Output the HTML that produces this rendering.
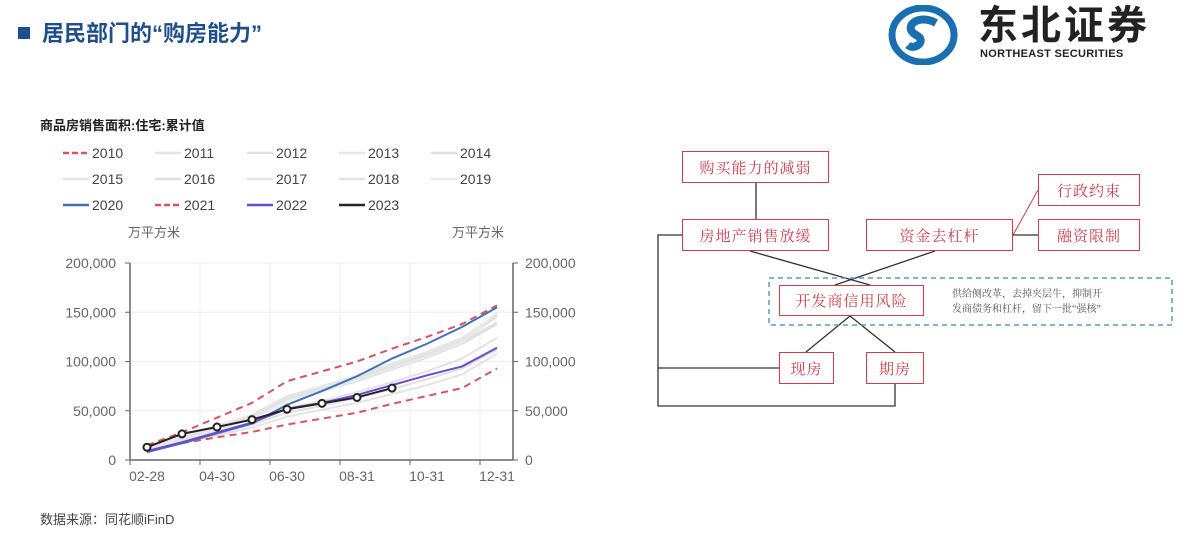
<!DOCTYPE html>
<html><head><meta charset="utf-8">
<style>
body{margin:0;width:1185px;height:551px;background:#fff;position:relative;overflow:hidden;font-family:"Liberation Sans","Noto Sans CJK SC",sans-serif;}
.abs{position:absolute;}
.box{position:absolute;border:1.5px solid #c8404e;color:#c8404e;font-family:"Liberation Serif","Noto Serif CJK SC",serif;font-size:15px;display:flex;align-items:center;justify-content:center;box-sizing:border-box;background:#fff;letter-spacing:1px;}
</style></head><body>
<div class="abs" style="left:18px;top:27px;width:12px;height:12px;background:#1f4e8c"></div>
<div class="abs" style="left:42px;top:16px;font-size:22px;font-weight:bold;color:#1f4e8c;">居民部门的“购房能力”</div>
<svg class="abs" style="left:888px;top:5px" width="70" height="60">
<ellipse cx="35" cy="30" rx="31" ry="27" fill="none" stroke="#1a6fb0" stroke-width="7"/>
<path d="M48 18 C30 8 14 22 28 30 C40 36 26 46 20 40" fill="none" stroke="#1a6fb0" stroke-width="8"/>
</svg>
<div class="abs" style="left:978px;top:4px;font-size:40px;font-weight:bold;color:#222;letter-spacing:3px;line-height:44px">东北证券</div>
<div class="abs" style="left:980px;top:48px;font-size:11px;font-weight:bold;color:#222;letter-spacing:0.3px">NORTHEAST SECURITIES</div>

<div class="abs" style="left:40px;top:115px;font-size:13px;font-weight:bold;color:#222">商品房销售面积:住宅:累计值</div>
<div class="abs" style="left:40px;top:509px;font-size:13px;color:#444">数据来源：同花顺iFinD</div>

<svg class="abs" id="chart" style="left:0;top:0" width="600" height="551"></svg>

<svg class="abs" style="left:0;top:0" width="1185" height="551">
<polyline points="756,183 756,219" fill="none" stroke="#333" stroke-width="1.3"/>
<polyline points="682,235 658,235 658,406 895,406 895,384" fill="none" stroke="#333" stroke-width="1.3"/>
<polyline points="658,368 779,368" fill="none" stroke="#333" stroke-width="1.3"/>
<line x1="750" y1="251" x2="870" y2="285" stroke="#333" stroke-width="1.3"/>
<line x1="935" y1="251" x2="835" y2="285" stroke="#333" stroke-width="1.3"/>
<line x1="850" y1="316" x2="806" y2="352" stroke="#333" stroke-width="1.3"/>
<line x1="850" y1="316" x2="895" y2="352" stroke="#333" stroke-width="1.3"/>
<line x1="1013" y1="235" x2="1038" y2="190" stroke="#c8404e" stroke-width="1"/>
<line x1="1013" y1="235" x2="1038" y2="235" stroke="#333" stroke-width="1.3"/>
<rect x="769" y="278" width="403" height="47" fill="none" stroke="#5a9bc0" stroke-width="1.5" stroke-dasharray="5,4"/>
</svg>
<div class="box" style="left:682px;top:151px;width:147px;height:32px">购买能力的减弱</div>
<div class="box" style="left:682px;top:219px;width:147px;height:32px">房地产销售放缓</div>
<div class="box" style="left:866px;top:219px;width:147px;height:32px">资金去杠杆</div>
<div class="box" style="left:1038px;top:174px;width:102px;height:32px">行政约束</div>
<div class="box" style="left:1038px;top:219px;width:102px;height:32px">融资限制</div>
<div class="box" style="left:779px;top:285px;width:145px;height:31px">开发商信用风险</div>
<div class="box" style="left:779px;top:352px;width:55px;height:32px">现房</div>
<div class="box" style="left:866px;top:352px;width:58px;height:32px">期房</div>
<div class="abs" style="left:952px;top:287px;font-size:10px;line-height:15px;color:#555;font-family:'Liberation Serif','Noto Serif CJK SC',serif">供给侧改革，去掉夹层牛，抑制开<br>发商债务和杠杆，留下一批“强核”</div>

<script>
const categories=["02-28","03-31","04-30","05-31","06-30","07-31","08-31","09-30","10-31","11-30","12-31"];
const tickLabels=["02-28","04-30","06-30","08-31","10-31","12-31"];
const yTicks=[0,50000,100000,150000,200000];
const s2010=[15000,28000,43000,58000,80000,90000,100000,113000,125000,138000,157000];
const s2021=[9000,17000,23000,28500,36000,42000,48000,57000,65000,73000,93000];
const s2020=[8000,17000,27000,37000,56000,70000,85000,103000,118000,135000,155000];
const s2022=[9000,18000,28000,38000,52000,58000,66000,76000,86000,95000,114000];
const s2023=[13000,26500,33500,41000,51500,57500,63500,73000];
const s2011=[11000,22000,33000,44000,62000,72000,82000,94000,106000,120000,140000];
const s2012=[10000,19000,29000,38000,52000,60000,69000,79000,90000,103000,124000];
const s2013=[12000,23000,35000,46000,65000,75000,86000,98000,110000,124000,148000];
const s2014=[10000,18000,27000,36000,48000,55000,63000,72000,82000,93000,112000];
const s2015=[9000,17000,25000,33000,44000,51000,58000,67000,76000,87000,108000];
const s2016=[10000,20000,31000,42000,60000,70000,80000,92000,104000,118000,138000];
const s2017=[11000,22000,33000,45000,64000,74000,85000,97000,109000,122000,145000];
const s2018=[10000,21000,32000,43000,62000,72000,83000,95000,107000,120000,147000];
const s2019=[10000,20000,31000,42000,60000,70000,81000,93000,105000,119000,150000];

const NS='http://www.w3.org/2000/svg';
const svg=document.getElementById('chart');
const X0=147,DX=35,Y0=460,YH=197;
function xs(i){return X0+DX*i;}
function ys(v){return Y0-v/200000*YH;}
function el(t,a,p){const e=document.createElementNS(NS,t);for(const k in a)e.setAttribute(k,a[k]);(p||svg).appendChild(e);return e;}
for(const v of yTicks){
 const g=el('line',{x1:130,x2:513,y1:ys(v),y2:ys(v),stroke:'#eeeef3'});
 
 
 const l=el('text',{x:116,y:ys(v)+5,'text-anchor':'end','font-size':14,fill:'#666'});l.textContent=v.toLocaleString('en-US');
 
 
 const r=el('text',{x:525,y:ys(v)+5,'font-size':14,fill:'#666'});r.textContent=v.toLocaleString('en-US');
 
 
 el('line',{x1:125,x2:130,y1:ys(v),y2:ys(v),stroke:'#666'});
 el('line',{x1:513,x2:518,y1:ys(v),y2:ys(v),stroke:'#666'});
}
for(let k=0;k<5;k++){
 const g=el('line',{x1:200+70*k,x2:200+70*k,y1:ys(200000),y2:Y0,stroke:'#eeeef3'});
 
 
}
el('line',{x1:130,x2:130,y1:ys(200000),y2:Y0,stroke:'#666','stroke-width':1.5});
el('line',{x1:513,x2:513,y1:ys(200000),y2:Y0,stroke:'#666','stroke-width':1.5});
el('line',{x1:130,x2:513,y1:Y0,y2:Y0,stroke:'#666','stroke-width':1.5});
tickLabels.forEach(t=>{
 const i=categories.indexOf(t);
 const l=el('text',{x:xs(i),y:481,'text-anchor':'middle','font-size':14,fill:'#666'});l.textContent=t;
 
 
});
for(let k=0;k<6;k++)el('line',{x1:130+70*k,x2:130+70*k,y1:Y0,y2:Y0+5,stroke:'#666'});
const u1=el('text',{x:128,y:237,'font-size':13,fill:'#666'});u1.textContent='万平方米';


const u2=el('text',{x:452,y:237,'font-size':13,fill:'#666'});u2.textContent='万平方米';



const series=[
 ['2011',s2011,'#e4e4e4',''],['2012',s2012,'#e2e2e2',''],['2013',s2013,'#e8e8e8',''],['2014',s2014,'#e0e0e0',''],
 ['2015',s2015,'#e4e4e4',''],['2016',s2016,'#dedede',''],['2017',s2017,'#e6e6e6',''],['2018',s2018,'#e2e2e2',''],['2019',s2019,'#eaeaea',''],
 ['2010',s2010,'#d9535f','7,5'],['2021',s2021,'#d9535f','7,5'],['2020',s2020,'#3f72b8',''],['2022',s2022,'#6a4bd0',''],['2023',s2023,'#222','']];
for(const [name,d,c,dash] of series){
 const p=el('polyline',{points:d.map((v,i)=>xs(i)+','+ys(v)).join(' '),fill:'none',stroke:c,'stroke-width':2,'stroke-dasharray':dash});
 
 
}
s2023.forEach((v,i)=>{
 const m=el('circle',{cx:xs(i),cy:ys(v),r:3.5,fill:'#fff',stroke:'#222','stroke-width':2});
 
 
});
const order=['2010','2011','2012','2013','2014','2015','2016','2017','2018','2019','2020','2021','2022','2023'];
order.forEach((n,k)=>{
 const s=series.find(q=>q[0]===n);
 const x=63+92*(k%5),y=153+26*Math.floor(k/5);
 const g=el('g',{});
 
 
 el('line',{x1:x,x2:x+26,y1:y,y2:y,stroke:s[2],'stroke-width':2.5,'stroke-dasharray':s[3]?'6,3':''},g);
 const t=el('text',{x:x+29,y:y+5,'font-size':14,fill:'#444'},g);t.textContent=n;
});
</script>
</body></html>
